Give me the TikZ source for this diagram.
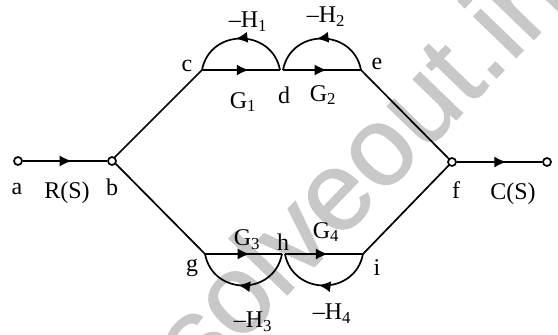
\documentclass[tikz,border=0pt]{standalone}
\usepackage{fontspec}
\setmainfont{Liberation Serif}
\setsansfont{Liberation Sans}
\usetikzlibrary{arrows.meta, decorations.markings}
\definecolor{wire}{RGB}{0,0,0}
\definecolor{stamp}{RGB}{200,200,200}
\tikzset{
  term/.style={circle, draw=wire, fill=white, line width=1.7pt, inner sep=0pt, minimum size=8pt},
  wirelabel/.style={text=wire, inner sep=0pt, font=\fontsize{24}{26}\selectfont},
  flow/.style={draw=wire, line width=1.7pt, postaction={decorate},
    decoration={markings, mark=at position #1 with {\arrow{Latex[length=12pt,width=11pt]}}}},
  flow/.default=0.55
}
\begin{document}
\begin{tikzpicture}[x=1pt,y=-1pt]
  \useasboundingbox (0,0) rectangle (558,335);
  % watermark
  \node[rotate=46, text=stamp, font=\sffamily\fontsize{112}{112}\selectfont\addfontfeature{FakeBold=1}] (mark) at (357,165) {solveout.in};

  \coordinate (c) at (202,70);
  \coordinate (d1) at (280,70);
  \coordinate (d2) at (283,70);
  \coordinate (e) at (361,70);
  \coordinate (g) at (205,254);
  \coordinate (h1) at (282,254);
  \coordinate (h2) at (285,254);
  \coordinate (i) at (363,254);

  % branches
  \draw[draw=wire, line width=1.7pt] (112,160) coordinate (bc) -- (c);
  \draw[draw=wire, line width=1.7pt] (bc) -- (g);
  \draw[draw=wire, line width=1.7pt] (e) -- (452,162) coordinate (fc);
  \draw[draw=wire, line width=1.7pt] (i) -- (fc);

  \draw[flow=0.6] (c) -- (d1);
  \draw[flow=0.56] (d2) -- (e);
  \draw[flow=0.58] (g) -- (h1);
  \draw[flow=0.55] (h2) -- (i);

  % loops
  \draw[flow=0.55] (d1) .. controls +(-8,-42) and +(8,-42) .. (c);
  \draw[flow=0.55] (e) .. controls +(-8,-42) and +(8,-42) .. (d2);
  \draw[flow=0.55] (h1) .. controls +(-8,42) and +(8,42) .. (g);
  \draw[flow=0.55] (i) .. controls +(-8,42) and +(8,42) .. (h2);

  \node[term] (a) at (18,161) {};
  \node[term] (b) at (112,161) {};
  \node[term] (f) at (452,162) {};
  \node[term] (o) at (547,162) {};
  \draw[flow=0.58] (a) -- (b);
  \draw[flow=0.58] (f) -- (o);

  \node[wirelabel] (la) at (17,189) {a};
  \node[wirelabel] (lrs) at (67,193) {R(S)};
  \node[wirelabel] (lb) at (112,187) {b};
  \node[wirelabel] (lc) at (187,66) {c};
  \node[wirelabel] (ld) at (284,95) {d};
  \node[wirelabel] (le) at (377,64) {e};
  \node[wirelabel] (lf) at (456,190) {f};
  \node[wirelabel] (lcs) at (513,194) {C(S)};
  \node[wirelabel] (lg) at (192,268) {g};
  \node[wirelabel] (lh) at (283,242) {h};
  \node[wirelabel] (li) at (377,268) {i};
  \node[wirelabel] (gone) at (243,102) {G\textsubscript{1}};
  \node[wirelabel] (gtwo) at (323,95) {G\textsubscript{2}};
  \node[wirelabel] (gthree) at (247,240) {G\textsubscript{3}};
  \node[wirelabel] (gfour) at (326,232) {G\textsubscript{4}};
  \node[wirelabel] (hone) at (248,22) {--H\textsubscript{1}};
  \node[wirelabel] (htwo) at (326,17) {--H\textsubscript{2}};
  \node[wirelabel] (hthree) at (253,322) {--H\textsubscript{3}};
  \node[wirelabel] (hfour) at (332,314) {--H\textsubscript{4}};
\end{tikzpicture}
\end{document}
